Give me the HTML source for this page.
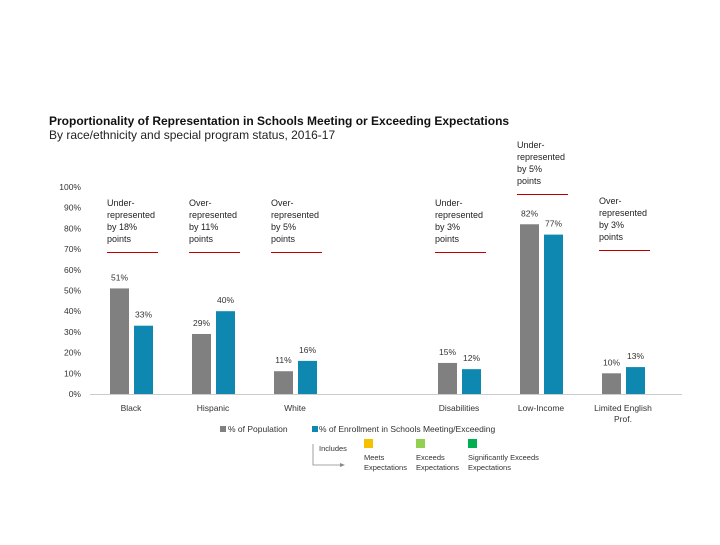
<!DOCTYPE html>
<html><head><meta charset="utf-8"><style>
html,body{margin:0;padding:0;background:#fff;}
body{width:720px;height:540px;overflow:hidden;font-family:"Liberation Sans",sans-serif;}
</style></head><body>
<svg id="chart" width="720" height="540" xmlns="http://www.w3.org/2000/svg" font-family="Liberation Sans, sans-serif">
<text x="49" y="125" font-size="12" font-weight="bold" fill="#111">Proportionality of Representation in Schools Meeting or Exceeding Expectations</text>
<text x="49" y="139" font-size="12" fill="#222">By race/ethnicity and special program status, 2016-17</text>
<g id="yaxis"></g>
<g id="bars"></g>
<g id="notes"></g>
<g font-size="8.5" fill="#333">
<rect x="220" y="426" width="6" height="6" fill="#808080"/>
<text x="228" y="432">% of Population</text>
<rect x="312" y="426" width="6" height="6" fill="#0e88b0"/>
<text x="319" y="432">% of Enrollment in Schools Meeting/Exceeding</text>
<text x="319" y="451" font-size="7.5">Includes</text>
<path d="M313 444 V465 H340" stroke="#888" fill="none" stroke-width="0.8"/>
<path d="M340 463 L345 465 L340 467 Z" fill="#888"/>
<rect x="364" y="439" width="9" height="9" fill="#f5c000"/>
<rect x="416" y="439" width="9" height="9" fill="#92d050"/>
<rect x="468" y="439" width="9" height="9" fill="#00b050"/>
<g font-size="7.5">
<text x="364" y="460">Meets</text><text x="364" y="470">Expectations</text>
<text x="416" y="460">Exceeds</text><text x="416" y="470">Expectations</text>
<text x="468" y="460">Significantly Exceeds</text><text x="468" y="470">Expectations</text>
</g>
</g>
</svg>
<script>
const categories=["Black","Hispanic","White","","Disabilities","Low-Income","Limited English|Prof."];
const population=[51,29,11,null,15,82,10];
const enrollment=[33,40,16,null,12,77,13];
const yTicks=[0,10,20,30,40,50,60,70,80,90,100];
const notes=[["Under-","represented","by 18%","points"],["Over-","represented","by 11%","points"],["Over-","represented","by 5%","points"],null,["Under-","represented","by 3%","points"],["Under-","represented","by 5%","points"],["Over-","represented","by 3%","points"]];
const noteTop=[206,206,206,null,206,148,204];
const NS="http://www.w3.org/2000/svg";
const y=v=>394-v*2.07;
const cx=i=>131+i*82;
function mk(tag,attrs,parent,txt){const e=document.createElementNS(NS,tag);for(const k in attrs)e.setAttribute(k,attrs[k]);if(txt!==undefined)e.textContent=txt;parent.appendChild(e);return e;}
const ya=document.getElementById('yaxis'),bg=document.getElementById('bars'),ng=document.getElementById('notes');
yTicks.forEach(t=>{const e=mk('text',{x:81,y:y(t)+3,'font-size':8.5,fill:'#333','text-anchor':'end'},ya,t+'%');

});
const ax=mk('line',{x1:90,x2:682,y1:394.5,y2:394.5,stroke:'#ccc','stroke-width':1},ya);


categories.forEach((c,i)=>{
 if(population[i]!==null){
  const b1=mk('rect',{x:cx(i)-21,width:19,y:y(population[i]),height:394-y(population[i]),fill:'#808080'},bg);
  
  
  const b2=mk('rect',{x:cx(i)+3,width:19,y:y(enrollment[i]),height:394-y(enrollment[i]),fill:'#0e88b0'},bg);
  
  
  const l1=mk('text',{x:cx(i)-11.5,y:y(population[i])-8,'font-size':8.5,fill:'#333','text-anchor':'middle'},bg,population[i]+'%');
  
  
  const l2=mk('text',{x:cx(i)+12.5,y:y(enrollment[i])-8,'font-size':8.5,fill:'#333','text-anchor':'middle'},bg,enrollment[i]+'%');
  
  
 }
 if(c){c.split('|').forEach((p,k)=>{const t=mk('text',{x:cx(i),y:411+k*11,'font-size':8.5,fill:'#333','text-anchor':'middle'},bg,p);
  
  });}
 if(notes[i]){
  notes[i].forEach((s,k)=>{const t=mk('text',{x:cx(i)-24,y:noteTop[i]+k*12,'font-size':9,fill:'#222'},ng,s);
   
   });
  const ln=mk('line',{x1:cx(i)-24,x2:cx(i)+27,y1:noteTop[i]+46.5,y2:noteTop[i]+46.5,stroke:'#c00000','stroke-width':1},ng);
  
  
 }
});
</script>
</body></html>
